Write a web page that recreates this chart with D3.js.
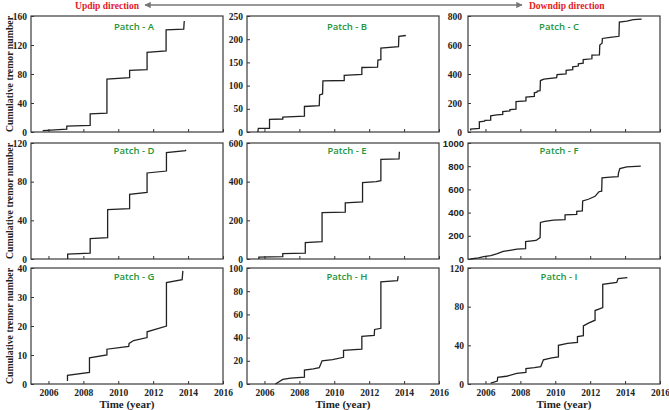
<!DOCTYPE html>
<html>
<head>
<meta charset="utf-8">
<script src="https://cdn.jsdelivr.net/npm/d3@7"></script>
<style>
  body { margin: 0; background: #fff; }
  svg { display: block; }
</style>
</head>
<body>
<div id="chart"></div>
<script>
// cumulative tremor counts per patch, [year, count]
var patchA = [[2005.67,2],[2007.05,4],[2007.05,8],[2008.39,9],[2008.39,25],[2009.35,26],[2009.35,73],[2010.65,75],[2010.65,85],[2011.65,86],[2011.65,110],[2012.74,112],[2012.74,141],[2013.75,142],[2013.78,153]];
var patchB = [[2005.62,0],[2005.65,8],[2006.29,8],[2006.29,27],[2007.05,28],[2007.05,32],[2008.29,34],[2008.29,55],[2009.14,57],[2009.16,80],[2009.33,82],[2009.35,110],[2010.57,111],[2010.57,122],[2011.58,124],[2011.58,139],[2012.48,140],[2012.5,155],[2012.67,156],[2012.67,181],[2013.68,184],[2013.7,206],[2014.1,208]];
var patchC = [[2005.15,10],[2005.15,20],[2005.65,25],[2005.65,70],[2005.95,75],[2005.97,80],[2006.3,82],[2006.3,112],[2006.65,118],[2006.99,122],[2006.99,140],[2007.4,145],[2007.4,155],[2007.75,158],[2007.75,210],[2008.32,215],[2008.32,240],[2008.8,245],[2008.8,270],[2008.95,275],[2008.97,282],[2009.13,285],[2009.15,355],[2009.35,365],[2010.08,375],[2010.1,395],[2010.62,400],[2010.62,425],[2011,430],[2011,450],[2011.32,455],[2011.32,470],[2011.6,475],[2011.6,500],[2012.1,505],[2012.1,530],[2012.53,532],[2012.55,600],[2012.68,612],[2012.7,645],[2013.14,652],[2013.65,660],[2013.67,758],[2014.1,765],[2014.47,775],[2014.95,778]];
var patchD = [[2007.1,0],[2007.1,5],[2008.39,6],[2008.39,21],[2009.39,22],[2009.39,51],[2010.65,52],[2010.65,67],[2011.65,69],[2011.65,89],[2012.76,91],[2012.76,110],[2013.85,112],[2013.87,113]];
var patchE = [[2005.68,0],[2005.68,10],[2007.05,12],[2007.05,28],[2008.34,30],[2008.34,85],[2009.3,90],[2009.3,240],[2010.63,242],[2010.63,290],[2011.62,295],[2011.62,395],[2012.4,400],[2012.67,405],[2012.67,515],[2013.71,518],[2013.73,555]];
var patchF = [[2005.15,0],[2005.6,10],[2005.9,20],[2006.3,30],[2006.64,45],[2007.02,65],[2007.4,75],[2007.8,85],[2008.3,90],[2008.3,150],[2008.9,160],[2009.13,185],[2009.15,315],[2009.4,325],[2009.9,335],[2010.56,340],[2010.56,380],[2011.23,385],[2011.23,410],[2011.55,415],[2011.57,500],[2011.9,515],[2012.28,540],[2012.3,545],[2012.5,580],[2012.66,585],[2012.68,700],[2013.15,705],[2013.6,710],[2013.62,740],[2013.7,780],[2014.1,795],[2014.9,800]];
var patchG = [[2007.09,1],[2007.09,3],[2008.35,4],[2008.35,9],[2009.35,10],[2009.35,12],[2010.6,13],[2010.62,14],[2010.88,15],[2011.65,16],[2011.65,18],[2012.76,20],[2012.76,35],[2013.66,36],[2013.7,39]];
var patchH = [[2006.63,0],[2007.05,4],[2007.5,5],[2008.29,6],[2008.29,12],[2008.8,13],[2009.14,14],[2009.3,20],[2009.9,21],[2010.53,23],[2010.53,29],[2011.58,30],[2011.58,41],[2012.29,42],[2012.31,47],[2012.67,48],[2012.67,88],[2013.62,89],[2013.66,93]];
var patchI = [[2006.3,1],[2006.68,3],[2006.7,7],[2007.2,8],[2007.79,11],[2008.32,12],[2008.32,16],[2008.8,17],[2009.17,18],[2009.32,25],[2009.8,27],[2010.18,28],[2010.18,40],[2010.7,42],[2011.27,43],[2011.27,49],[2011.61,50],[2011.61,60],[2011.9,63],[2012.28,66],[2012.28,76],[2012.57,78],[2012.72,79],[2012.72,103],[2013.52,105],[2013.6,109],[2014.13,110]];

var patchNames = ["A", "B", "C", "D", "E", "F", "G", "H", "I"];
var patchData = [patchA, patchB, patchC, patchD, patchE, patchF, patchG, patchH, patchI];
var yTicks = [
  [0, 40, 80, 120, 160], [0, 50, 100, 150, 200, 250], [0, 200, 400, 600, 800],
  [0, 40, 80, 120], [0, 200, 400, 600], [0, 200, 400, 600, 800, 1000],
  [0, 10, 20, 30, 40], [0, 20, 40, 60, 80, 100], [0, 40, 80, 120]
];
var yearTicks = [2006, 2008, 2010, 2012, 2014, 2016];
var yearDomain = [2005, 2016];

// layout
var colLeft = [31, 247, 468];
var rowTop = [16, 143, 268];
var pw = 192, ph = 116;
var labelDx = [103, 100, 91];
var labelDy = [11, 8, 9];
var serif = "'Liberation Serif', 'Times New Roman', serif";

var svg = d3.select("#chart").append("svg")
    .attr("width", 669)
    .attr("height", 410);

function styleTicks(s, family){
  s.select(".domain").remove();
  s.selectAll(".tick line").attr("stroke", "#333");
  s.selectAll(".tick text")
      .style("font-family", family)
      .style("font-weight", "bold")
      .style("font-size", "9.5px")
      .attr("fill", "#222");
}

patchData.forEach(function(data, i){
  var col = i % 3, row = Math.floor(i / 3);
  var yt = yTicks[i];

  var g = svg.append("g")
      .attr("transform", "translate(" + colLeft[col] + "," + rowTop[row] + ")");

  var x = d3.scaleLinear().domain(yearDomain).range([0, pw]);
  var y = d3.scaleLinear().domain([0, yt[yt.length - 1]]).range([ph, 0]);

  var xAxis = d3.axisBottom(x)
      .tickValues(yearTicks)
      .tickSize(-3)
      .tickPadding(5)
      .tickFormat(row == 2 ? d3.format("d") : function(){ return ""; });

  var yAxis = d3.axisLeft(y)
      .tickValues(yt)
      .tickSize(-3)
      .tickPadding(row == 0 && col == 2 ? 6 : 4)
      .tickFormat(d3.format("d"));

  g.append("g")
      .attr("transform", "translate(0," + ph + ")")
      .call(xAxis)
      .call(function(s){ styleTicks(s, serif); });

  g.append("g")
      .call(yAxis)
      .call(function(s){ styleTicks(s, i == 5 ? "'Liberation Sans', Arial, sans-serif" : serif); });

  g.append("rect")
      .attr("width", pw)
      .attr("height", ph)
      .attr("fill", "none")
      .attr("stroke", "#3a3a3a")
      .attr("stroke-width", 1.2);

  var line = d3.line()
      .x(function(d){ return x(d[0]); })
      .y(function(d){ return y(d[1]); });

  g.append("path")
      .datum(data)
      .attr("d", line)
      .attr("fill", "none")
      .attr("stroke", "#222")
      .attr("stroke-width", 1.3);

  g.append("text")
      .attr("x", labelDx[col])
      .attr("y", labelDy[row])
      .attr("dy", "0.35em")
      .attr("text-anchor", "middle")
      .style("font-family", "'Open Sans', 'Noto Sans', sans-serif")
      .style("font-size", "9.5px")
      .style("font-weight", "600")
      .attr("fill", "#23953a")
      .text("Patch - " + patchNames[i]);

  if(col == 0){
    g.append("text")
        .attr("transform", "translate(-18," + (ph / 2) + ") rotate(-90)")
        .attr("text-anchor", "middle")
        .style("font-family", serif)
        .style("font-weight", "bold")
        .style("font-size", "9.8px")
        .attr("fill", "#222")
        .text("Cumulative tremor number");
  }

  if(row == 2){
    g.append("text")
        .attr("x", pw / 2)
        .attr("y", ph + 24)
        .attr("text-anchor", "middle")
        .style("font-family", serif)
        .style("font-weight", "bold")
        .style("font-size", "11px")
        .attr("fill", "#222")
        .text("Time (year)");
  }
});

// direction arrow on top
var defs = svg.append("defs");
defs.append("marker")
    .attr("id", "head")
    .attr("viewBox", "0 0 10 10")
    .attr("refX", 9).attr("refY", 5)
    .attr("markerWidth", 4).attr("markerHeight", 4)
    .attr("orient", "auto-start-reverse")
    .append("path")
    .attr("d", "M0,0L10,5L0,10z")
    .attr("fill", "#777");

svg.append("line")
    .attr("x1", 145).attr("x2", 522)
    .attr("y1", 5).attr("y2", 5)
    .attr("stroke", "#777")
    .attr("stroke-width", 1.6)
    .attr("marker-start", "url(#head)")
    .attr("marker-end", "url(#head)");

svg.append("text")
    .attr("x", 139).attr("y", 8.5)
    .attr("text-anchor", "end")
    .style("font-family", serif)
    .style("font-weight", "bold")
    .style("font-size", "9.5px")
    .attr("fill", "#e3211f")
    .text("Updip direction");

svg.append("text")
    .attr("x", 529).attr("y", 8.5)
    .style("font-family", serif)
    .style("font-weight", "bold")
    .style("font-size", "9.5px")
    .attr("fill", "#e3211f")
    .text("Downdip direction");
</script>
</body>
</html>
